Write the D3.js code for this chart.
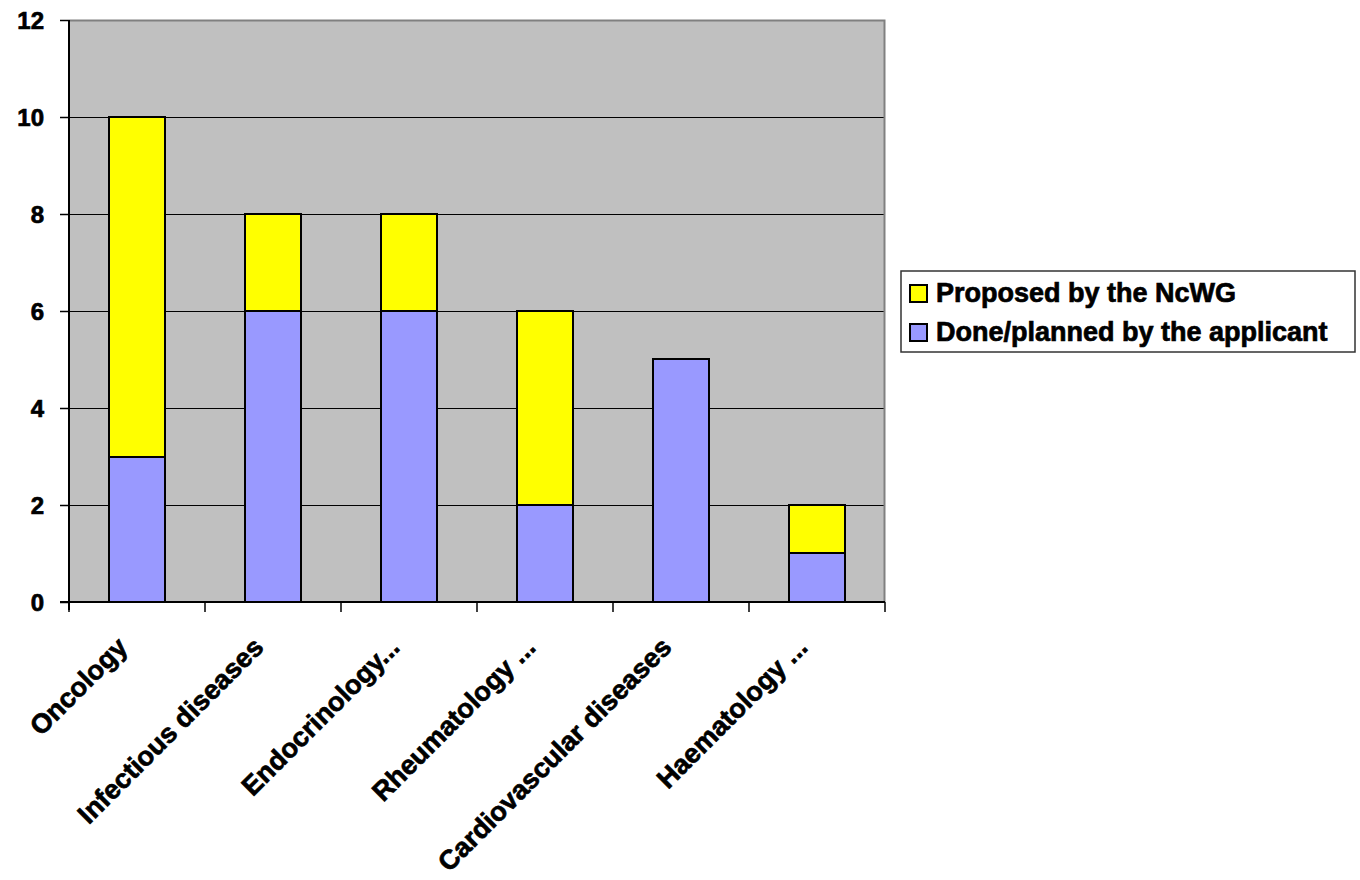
<!DOCTYPE html>
<html><head><meta charset="utf-8">
<script src="https://cdn.jsdelivr.net/npm/d3@7/dist/d3.min.js"></script>
<style>body{margin:0;background:#fff}svg{display:block}text{font-family:"Liberation Sans",Arial,sans-serif;font-weight:bold;fill:#000;stroke:#000;stroke-width:0.7px}</style>
</head><body><svg id="c" width="1360" height="880"></svg>
<script>
const categories = ["Oncology","Infectious diseases","Endocrinology...","Rheumatology ...","Cardiovascular diseases","Haematology ..."];
const applicant = [3,6,6,2,5,1];
const ncwg = [7,2,2,4,0,1];
const seriesNames = ["Done/planned by the applicant","Proposed by the NcWG"];
const seriesColors = ["#9999FF","#FFFF00"];
const yTicks = [0,2,4,6,8,10,12];

const svg = d3.select("#c");
const L=69, R=885, T=20, B=602;
const x = d3.scaleBand().domain(categories).range([L,R]).paddingInner(0.59).paddingOuter(0.295);
const xb = d3.scaleBand().domain(categories).range([L,R]);
const y = d3.scaleLinear().domain([0,12]).range([B,T]);

svg.append("rect").attr("x",L).attr("y",T).attr("width",R-L).attr("height",B-T).attr("fill","#C0C0C0");
// gridlines
svg.append("g").selectAll("line").data(yTicks.filter(d=>d>0&&d<12)).join("line")
  .attr("x1",L).attr("x2",R).attr("y1",d=>Math.round(y(d))+0.5).attr("y2",d=>Math.round(y(d))+0.5).attr("stroke","#000").attr("stroke-width",1);
// border top/right
svg.append("path").attr("d",`M${L},${T+0.5}H${R-0.5}V${B}`).attr("fill","none").attr("stroke","#808080").attr("stroke-width",2);

const stack = d3.stack().keys([0,1])(categories.map((c,i)=>({0:applicant[i],1:ncwg[i],cat:c})));
stack.forEach((s,si)=>{
  svg.append("g").selectAll("rect").data(s.filter(d=>d[1]-d[0]>0)).join("rect")
    .attr("x",d=>Math.round(x(d.data.cat))).attr("width",Math.round(x.bandwidth()))
    .attr("y",d=>Math.round(y(d[1]))).attr("height",d=>Math.round(y(d[0]))-Math.round(y(d[1])))
    .attr("fill",seriesColors[si]).attr("stroke","#000").attr("stroke-width",2);
});

// y axis
const ya = svg.append("g").attr("transform",`translate(${L},0)`).call(d3.axisLeft(y).tickValues(yTicks).tickSize(9).tickPadding(16).tickFormat(d3.format("d")));
ya.select(".domain").attr("stroke","#000").attr("stroke-width",2).attr("d",`M0,${T}V${B+8}`);
ya.selectAll(".tick line").attr("stroke","#000").attr("stroke-width",1.5);
ya.selectAll(".tick text").style("font-size","24px").attr("dy","0.36em");

// x axis
const xg = svg.append("g").attr("transform",`translate(0,${B})`);
xg.append("line").attr("x1",L-9).attr("x2",R).attr("stroke","#000").attr("stroke-width",2);
const bounds = categories.map(c=>xb(c)).concat([R]);
xg.selectAll("line.t").data(bounds).join("line").attr("class","t")
  .attr("x1",d=>d).attr("x2",d=>d).attr("y1",0).attr("y2",10).attr("stroke","#000").attr("stroke-width",1.5);
xg.selectAll("text").data(categories).join("text")
  .attr("transform",d=>`translate(${xb(d)+xb.bandwidth()/2-8},47) rotate(-45)`)
  .attr("text-anchor","end").style("font-size","27px").text(d=>d);

// legend
const lg = svg.append("g");
lg.append("rect").attr("x",901).attr("y",271).attr("width",454).attr("height",81).attr("fill","#fff").attr("stroke","#333").attr("stroke-width",1.5);
const order=[1,0];
order.forEach((si,k)=>{
  const yy = 285 + k*39;
  lg.append("rect").attr("x",910).attr("y",yy).attr("width",17).attr("height",17).attr("fill",seriesColors[si]).attr("stroke","#000").attr("stroke-width",2);
  lg.append("text").attr("x",936).attr("y",yy+17).style("font-size","27px").text(seriesNames[si]);
});
</script></body></html>
